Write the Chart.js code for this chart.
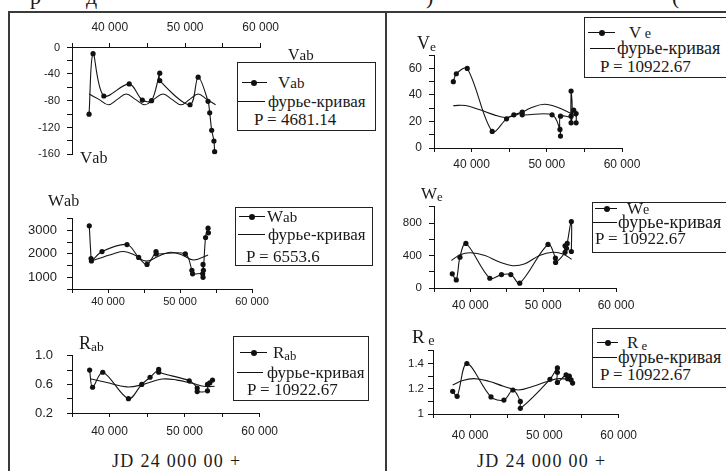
<!DOCTYPE html>
<html><head><meta charset="utf-8">
<script src="https://cdn.jsdelivr.net/npm/chart.js@4.4.1/dist/chart.umd.min.js"></script>
<style>
body{margin:0;background:#fff;}
#root{position:relative;width:726px;height:471px;overflow:hidden;background:#fff;font-family:"Liberation Serif",serif;color:#1a1a1a}
canvas{position:absolute}
.t{position:absolute;white-space:nowrap;line-height:1}
.lg{position:absolute;border:1px solid #222;background:#fff;box-sizing:border-box}
.ln{position:absolute;height:0;border-top:1.3px solid #111}
.dot{position:absolute;width:6px;height:6px;border-radius:50%;background:#111}
.fr{position:absolute;background:#3a3a3a}
sub{font-size:75%;vertical-align:-2px;line-height:1}
</style></head><body><div id="root"></div>
<script>
// ---------- DATA ----------
// Vab (left, top)
const vabX = [37260,37790,39220,42580,44320,45540,46630,46630,50640,51720,53030,53250,53510,53810,53900];
const vabY = [-100,-10,-73,-55,-79,-80,-39,-50,-86,-45,-81,-98,-124,-140,-156];
const vabFitX = [37270,38570,39830,41010,42190,43400,44670,45840,47060,48240,49460,50590,51720,52860,54030];
const vabFitY = [-70,-78,-86,-78,-70,-78,-86,-78,-70,-78,-86,-78,-70,-78,-86];
// Wab (left, middle)
const wabX = [37400,37650,37700,39170,42640,44260,45420,46670,46700,50740,51650,51750,53150,53200,53200,53250,53550,53900,53950];
const wabY = [3200,1800,1700,2100,2400,1850,1550,2100,2000,2000,1300,1150,1150,1000,1550,1300,2700,3100,2900];
const wabFitX = [37700,39300,40800,42200,43700,45300,47000,48650,50300,51900,53900];
const wabFitY = [1700,1860,2010,2100,1950,1690,1900,2070,1950,1740,1950];
// Rab (left, bottom)
const rabX = [37350,37740,39100,42520,44290,45400,46550,46550,50620,51680,51680,53050,53050,53360,53720];
const rabY = [0.80,0.56,0.77,0.40,0.60,0.70,0.81,0.77,0.65,0.55,0.50,0.51,0.60,0.62,0.66];
const rabFitX = [37400,39500,42300,44500,47000,49000,51000,52800,54000];
const rabFitY = [0.68,0.63,0.565,0.60,0.675,0.66,0.615,0.57,0.575];
// Ve (right, top)
const veX = [37570,37970,39420,42740,44650,45620,46730,46730,50700,51750,51820,51820,53230,53230,53230,53580,53900,53900];
const veY = [50,56,60,12.5,22,25,27,25,25,14,9,24,24,43,19,28.5,26,19];
const veFitX = [37570,39200,41000,43000,44500,46000,48000,49700,51500,53900];
const veFitY = [32,32,29,25,23,25,30.5,33,30.5,24];
// We (right, middle)
const weX = [37510,38060,38560,39380,42670,44270,45550,46780,50660,51680,51700,53000,53000,53200,53300,53870,53870];
const weY = [175,100,380,550,120,165,165,60,537,370,315,440,520,490,550,820,450];
const weFitX = [37400,38600,40000,42000,44000,45800,47500,49500,51300,52700,53900];
const weFitY = [340,410,435,400,320,275,300,400,440,420,355];
// Re (right, bottom)
const reX = [37650,38250,39560,42810,44550,45760,46760,46760,50750,51750,51750,51750,52920,53140,53360,53600,53800];
const reY = [1.18,1.14,1.40,1.135,1.11,1.19,1.10,1.045,1.275,1.365,1.33,1.25,1.31,1.28,1.30,1.27,1.245];
const reFitX = [37650,39000,40500,42500,44500,46500,48500,50500,52000,53800];
const reFitY = [1.23,1.265,1.28,1.26,1.22,1.19,1.22,1.26,1.28,1.27];
// tick values and labels
const xTicks = [35000,40000,45000,50000,55000,60000];
const xTickLabels = {40000:'40 000', 50000:'50 000', 60000:'60 000'};
const vabTicks = [-160,-140,-120,-100,-80,-60,-40,-20,0];
const vabTickLabels = {'-40':'-40','-80':'-80','-120':'-120','-160':'-160'};
const vabTopLabel = '0';
const wabTicks = [500,1000,1500,2000,2500,3000,3500];
const wabTickLabels = {'1000':'1000','2000':'2000','3000':'3000'};
const rabTicks = [0.2,0.4,0.6,0.8,1.0];
const rabTickLabels = {'0.2':'0.2','0.6':'0.6','1':'1.0'};
const veTicks = [0,10,20,30,40,50,60,70];
const veTickLabels = {'0':'0','20':'20','40':'40','60':'60'};
const weTicks = [0,200,400,600,800,1000];
const weTickLabels = {'0':'0','400':'400','800':'800'};
const reTicks = [1.0,1.1,1.2,1.3,1.4,1.5];
const reTickLabels = {'1':'1','1.2':'1.2','1.4':'1.4'};
const fitLabel = 'фурье-кривая';
const periods = ['P = 4681.14','P = 6553.6','P = 10922.67','P = 10922.67','P = 10922.67','P = 10922.67'];
const xTitle = 'JD 24 000 00 +';

// ---------- helpers ----------
const root = document.getElementById('root');
const zip = (xs, ys) => xs.map((x, i) => ({x, y: ys[i]}));
function el(cls, css, html){ const d=document.createElement('div'); d.className=cls; Object.assign(d.style, css); if(html!==undefined) d.innerHTML=html; root.appendChild(d); return d; }
function text(html, x, yc, size, extra){ return el('t', Object.assign({left:x+'px', top:(yc-size/2)+'px', fontSize:size+'px', height:size+'px'}, extra||{}), html); }
const key = v => String(Math.round(v*1000)/1000);

function makeChart(s){
  const W = Math.round(s.r - s.l + s.padL + s.padR);
  const H = Math.round(s.b - s.t + s.padT + s.padB);
  const c = document.createElement('canvas');
  c.width = W; c.height = H;
  c.style.left = (s.l - s.padL) + 'px'; c.style.top = (s.t - s.padT) + 'px';
  c.style.width = W+'px'; c.style.height = H+'px';
  root.appendChild(c);
  const xTop = s.xPos === 'top';
  new Chart(c, {
    type: 'scatter',
    data: { datasets: [
      { data: zip(s.fitX, s.fitY), showLine:true, borderColor:'#151515', borderWidth:1.1, pointRadius:0, tension:0.4, fill:false },
      { data: zip(s.dX, s.dY), showLine:true, borderColor:'#151515', borderWidth:1.1, pointRadius:2.6, pointBackgroundColor:'#111', pointBorderWidth:0, tension:0.33, fill:false }
    ]},
    options: {
      responsive:false, animation:false, devicePixelRatio:1, maintainAspectRatio:false,
      layout:{ padding: xTop ? {top:0,left:0,right:s.padR,bottom:s.padB} : {top:s.padT,left:0,right:s.padR,bottom:0} },
      plugins:{ legend:{display:false}, tooltip:{enabled:false} },
      scales:{
        x:{ type:'linear', position: xTop?'top':'bottom', min:35000, max:60000,
            afterBuildTicks: sc => { sc.ticks = xTicks.map(v => ({value:v})); },
            afterFit: sc => { sc.height = xTop ? s.padT : s.padB; },
            border:{display:true, color:'#111', width:1},
            grid:{display:true, drawOnChartArea:false, drawTicks:true, tickLength:4, color:'#111', lineWidth:1},
            ticks:{ autoSkip:false, maxRotation:0, minRotation:0, padding:s.xPad, color:'#222',
                    font:{family:'Liberation Sans', size:s.xFont}, callback: v => xTickLabels[Math.round(v)] || '' } },
        y:{ type:'linear', position:'left', min:s.yMin, max:s.yMax,
            afterBuildTicks: sc => { sc.ticks = s.yTicks.map(v => ({value:v})); },
            afterFit: sc => { sc.width = s.padL; },
            border:{display:true, color:'#111', width:1},
            grid:{display:true, drawOnChartArea:false, drawTicks:true, tickLength:5, color:'#111', lineWidth:1},
            ticks:{ autoSkip:false, padding:s.yPad, color:'#222',
                    font:{family:'Liberation Sans', size:s.yFont}, callback: v => s.yLabels[key(v)] || '' } }
      }
    }
  });
}

// ---------- frame ----------
el('fr', {left:'8px', top:'11px', width:'718px', height:'1.5px'});
el('fr', {left:'8px', top:'11px', width:'1.5px', height:'460px'});
el('fr', {left:'385px', top:'11px', width:'1.5px', height:'460px'});
// cut-off text of the page line above
text('р', 30, -3, 22); text('д', 86, -3, 22); text(')', 426, -3, 22); text('(', 672, -3, 22);

// ---------- charts ----------
makeChart({l:72,t:47,r:262,b:156,padL:50,padT:30,padR:25,padB:12,xPos:'top',xFont:12,xPad:8,yFont:11,yPad:7,
  yMin:-160,yMax:0,yTicks:vabTicks,yLabels:vabTickLabels,dX:vabX,dY:vabY,fitX:vabFitX,fitY:vabFitY});
makeChart({l:72,t:211,r:252,b:289,padL:55,padT:10,padR:25,padB:20,xFont:11,xPad:2,yFont:13,yPad:10,
  yMin:500,yMax:3500,yTicks:wabTicks,yLabels:wabTickLabels,dX:wabX,dY:wabY,fitX:wabFitX,fitY:wabFitY});
makeChart({l:72,t:344,r:260,b:413,padL:55,padT:10,padR:25,padB:25,xFont:12,xPad:7,yFont:13,yPad:14,
  yMin:0.2,yMax:1.0,yTicks:rabTicks,yLabels:rabTickLabels,dX:rabX,dY:rabY,fitX:rabFitX,fitY:rabFitY});
makeChart({l:434,t:51,r:622,b:148,padL:45,padT:10,padR:25,padB:25,xFont:12,xPad:5,yFont:12,yPad:7,
  yMin:0,yMax:70,yTicks:veTicks,yLabels:veTickLabels,dX:veX,dY:veY,fitX:veFitX,fitY:veFitY});
makeChart({l:434,t:203,r:616,b:288,padL:45,padT:10,padR:25,padB:25,xFont:12,xPad:6,yFont:11.5,yPad:7,
  yMin:0,yMax:1000,yTicks:weTicks,yLabels:weTickLabels,dX:weX,dY:weY,fitX:weFitX,fitY:weFitY});
makeChart({l:433,t:350,r:622,b:414,padL:45,padT:10,padR:25,padB:30,xFont:12,xPad:10,yFont:11.5,yPad:4,
  yMin:1,yMax:1.5,yTicks:reTicks,yLabels:reTickLabels,dX:reX,dY:reY,fitX:reFitX,fitY:reFitY});

// "0" label at the top of the Vab axis (where the top x axis crosses)
el('t', {left:'40px', width:'20px', textAlign:'right', top:'41px', height:'12px', fontSize:'11px', lineHeight:'12px',
         fontFamily:'Liberation Sans', color:'#222'}, vabTopLabel);

// ---------- axis titles ----------
text('V<span style="font-size:15px">ab</span>', 288, 55, 16);
text('V<span style="font-size:16px">ab</span>', 80, 157, 17);
text('W<span style="font-size:16px">ab</span>', 48, 200, 17);
text('R<sub>ab</sub>', 79, 343, 18);
text('V<sub>e</sub>', 417, 43, 18);
text('W<sub>e</sub>', 421, 193, 17);
text('R<sub> e</sub>', 412, 336, 19);
text(xTitle, 112, 461, 18, {letterSpacing:'1.3px'});
text(xTitle, 477, 461, 18, {letterSpacing:'1.3px'});

// ---------- legends (HTML boxes) ----------
function legend(box, rows){
  el('lg', {left:box[0]+'px', top:box[1]+'px', width:box[2]+'px', height:box[3]+'px'});
  const m = rows.m;
  el('ln', {left:m.x1+'px', top:m.y+'px', width:(m.x2-m.x1)+'px'});
  el('dot', {left:(m.d-3)+'px', top:(m.y-2.5)+'px'});
  text(m.label, m.tx, m.y, 17);
  const f = rows.f;
  el('ln', {left:f.x1+'px', top:f.y+'px', width:(f.x2-f.x1)+'px'});
  text(fitLabel, f.tx, f.y, f.size||17);
  text(rows.p.label, rows.p.x, rows.p.y, 17);
}
legend([237,62,139,69], {m:{x1:242,x2:267,d:254,y:82,tx:278,label:'V<span style="font-size:15px">ab</span>'}, f:{x1:238,x2:265,y:101,tx:268}, p:{x:254,y:119,label:periods[0]}});
legend([235,207,138,59], {m:{x1:239,x2:265,d:252,y:216,tx:267,label:'W<span style="font-size:15px">ab</span>'}, f:{x1:238,x2:265,y:234,tx:268}, p:{x:246,y:256,label:periods[1]}});
legend([233,336,136,65], {m:{x1:240,x2:267,d:254,y:352,tx:273,label:'R<sub>ab</sub>'}, f:{x1:237,x2:263,y:372,tx:267}, p:{x:247,y:389,label:periods[2]}});
legend([584,17,150,61], {m:{x1:588,x2:615,d:602,y:32,tx:629,label:'V<span style="font-size:14px"> e</span>'}, f:{x1:590,x2:615,y:48,tx:617,size:18}, p:{x:600,y:66,label:periods[3]}});
legend([592,202,150,51], {m:{x1:595,x2:617,d:607,y:208,tx:627,label:'W<span style="font-size:14px">e</span>'}, f:{x1:593,x2:617,y:222,tx:618,size:18}, p:{x:595,y:238,label:periods[4]}});
legend([592,328,150,60], {m:{x1:597,x2:618,d:608,y:342,tx:627,label:'R<sub> e</sub>'}, f:{x1:593,x2:617,y:357,tx:618,size:18}, p:{x:600,y:374,label:periods[5]}});
</script>
</body></html>
